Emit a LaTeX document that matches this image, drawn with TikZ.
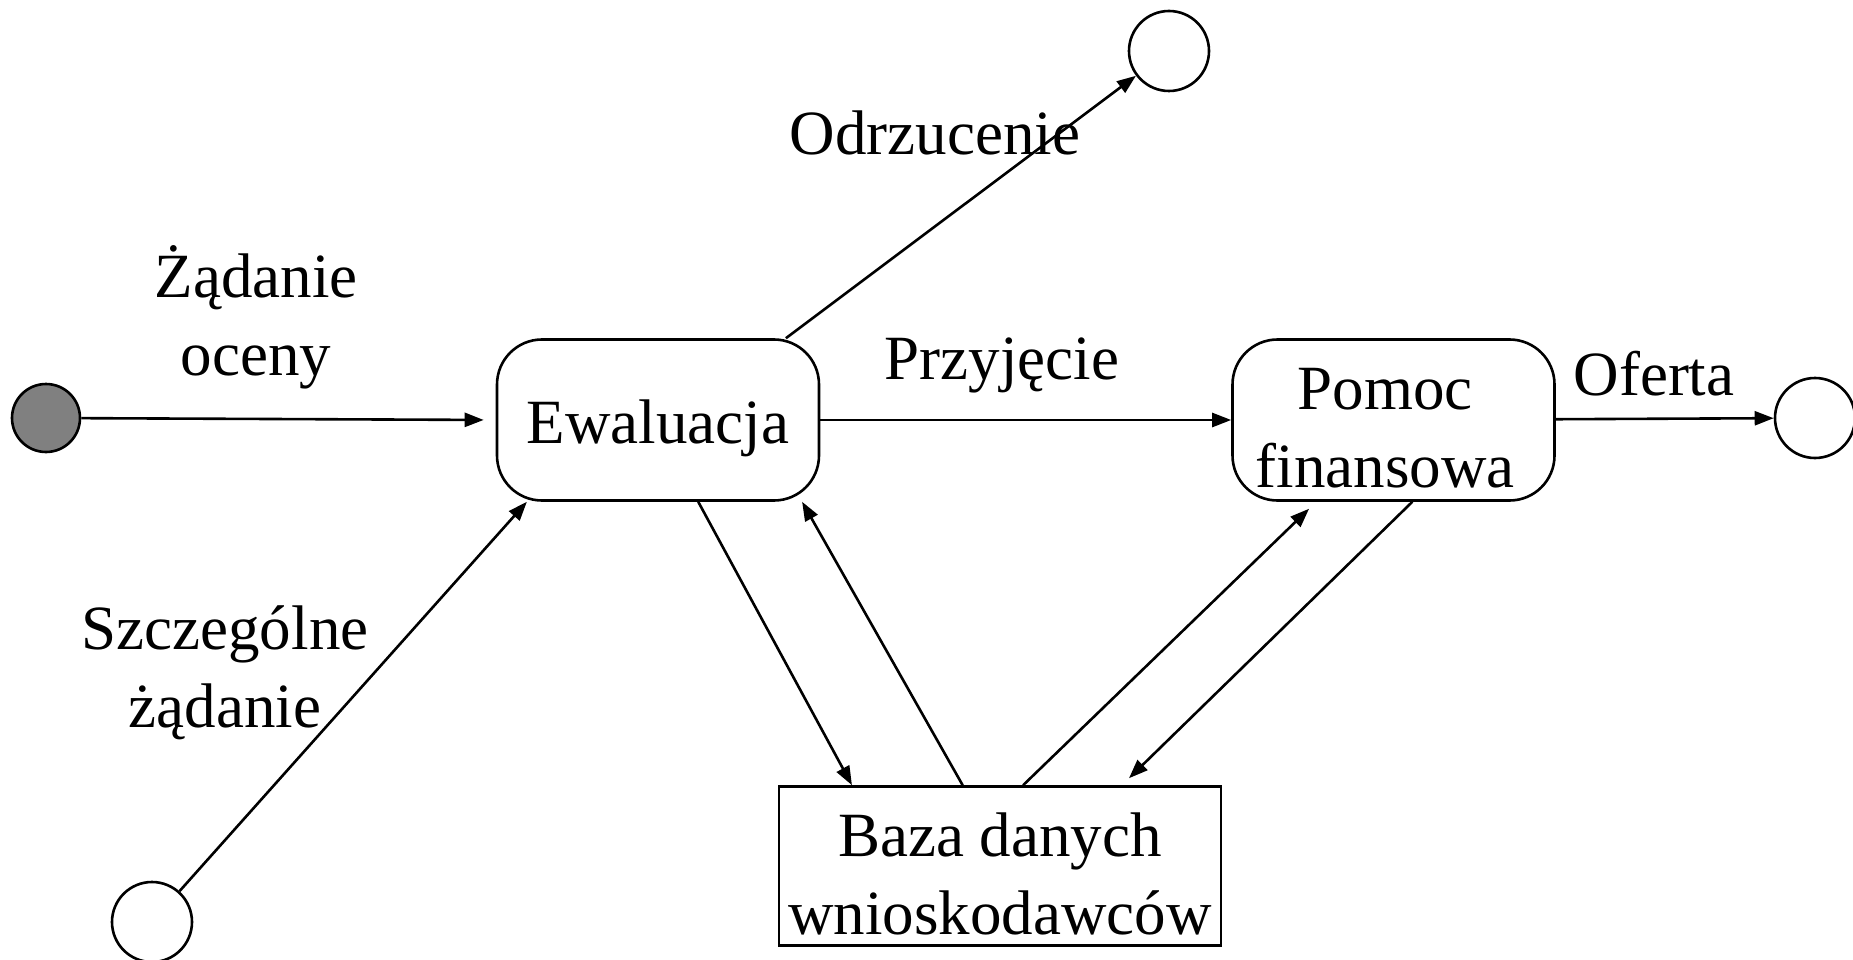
\documentclass[tikz,border=0pt]{standalone}
\usepackage{fontspec}
\setmainfont{Liberation Serif}
\usetikzlibrary{arrows.meta,calc}
\definecolor{startgray}{HTML}{808080}
\begin{document}
\begin{tikzpicture}[x=1pt,y=-1pt,
  font=\fontsize{63}{78}\selectfont,
  line width=2.6pt,
  state/.style={draw, rounded corners=45pt, minimum width=322pt, minimum height=161pt, inner sep=0pt, align=center},
  store/.style={draw, minimum width=442pt, minimum height=159pt, inner sep=0pt, align=center},
  pseudo/.style={draw, circle, minimum size=80pt, inner sep=0pt},
  initial/.style={draw, circle, fill=startgray, minimum size=68pt, inner sep=0pt},
  lbl/.style={inner sep=0pt, align=center},
  flow/.style={-{Triangle[length=19pt,width=14pt]}},
]
\useasboundingbox (0,0) rectangle (1853,960);

% states
\node[initial] (start) at (46,418) {};
\node[state, text height=46pt, text depth=0pt] (ewal) at (658,420) {Ewaluacja};
\node[state, text height=134pt, text depth=0pt] (pomoc) at (1393.5,420) {Pomoc\hspace*{17pt}\\finansowa\hspace*{17pt}};
\node[store, text height=136pt, text depth=0pt] (baza) at (1000,866) {Baza danych\\wnioskodawców};
\node[pseudo] (rej) at (1169,51) {};
\node[pseudo] (ofr) at (1815,418) {};
\node[pseudo] (spec) at (152,922) {};

% transitions
\draw[flow, shorten >=12pt] (start) -- (ewal.west);
\draw[flow] (ewal) -- (pomoc);
\draw[flow] (pomoc) -- (ofr);
\draw[flow] ($(ewal.north west)!0.894!(ewal.north east)$) -- (rej);
\draw[flow] (spec) -- ($(ewal.south west)!0.096!(ewal.south east)$);
\draw[flow] ($(ewal.south west)!0.624!(ewal.south east)$) -- ($(baza.north west)!0.167!(baza.north east)$);
\draw[flow] ($(baza.north west)!0.416!(baza.north east)$) -- ($(ewal.south west)!0.944!(ewal.south east)$);
\draw[flow, shorten >=10pt] ($(baza.north west)!0.552!(baza.north east)$) -- ($(pomoc.south west)!0.262!(pomoc.south east)$);
\draw[flow, shorten >=10pt] ($(pomoc.south west)!0.558!(pomoc.south east)$) -- ($(baza.north west)!0.774!(baza.north east)$);

% labels (base anchor sits on the last line)
\node[lbl, anchor=base] (lzad) at (256,375) {Żądanie\\oceny};
\node[lbl, anchor=base] (lodr) at (935,155) {Odrzucenie};
\node[lbl, anchor=base] (lprz) at (1002,379) {Przyjęcie};
\node[lbl, anchor=base] (loft) at (1654,395) {Oferta};
\node[lbl, anchor=base] (lspec) at (225,727) {Szczególne\\żądanie};
\end{tikzpicture}
\end{document}
